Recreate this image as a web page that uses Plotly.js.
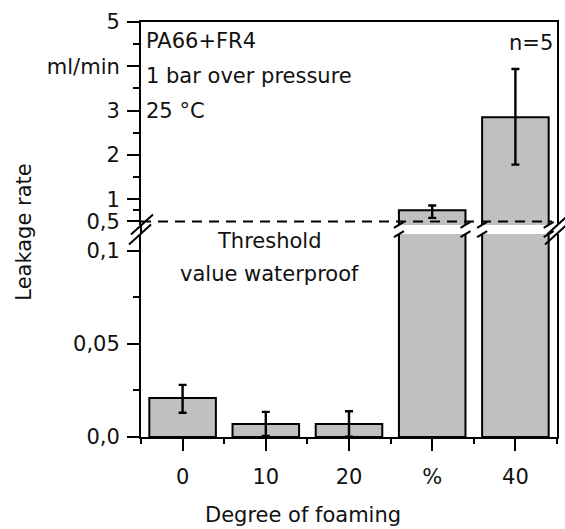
<!DOCTYPE html>
<html><head><meta charset="utf-8">
<script src="https://cdn.plot.ly/plotly-3.0.1.min.js"></script>
<style>html,body{margin:0;padding:0;background:#fff}</style></head>
<body>
<div id="chart" style="width:565px;height:529px"></div>
<script>
// ---- data ----
const categories = ['0', '10', '20', '%', '40'];
const leakage    = [0.021, 0.007, 0.007, 0.75, 2.85];
const errPlus    = [0.007, 0.0065, 0.0068, 0.11, 1.09];
const errMinus   = [0.008, 0.0065, 0.0068, 0.17, 1.07];
const lowerTickVals = [0, 0.05, 0.1];
const lowerTickText = ['0,0', '0,05', '0,1'];
const lowerMinor    = [0.025, 0.075];
const upperTickVals = [0.5, 1, 2, 3, 4, 5];
const upperTickText = ['0,5', '1', '2', '3', 'ml/min', '5'];
const upperMinor    = [0.75, 1.5, 2.5, 3.5, 4.5];
const threshold = 0.5;
const lowerRange = [0, 0.109];
const upperRange = [0.42, 5];

// ---- layout helpers ----
const FONT = {family: 'DejaVu Sans', size: 21, color: '#111'};
const xs = categories.map((c, i) => i);
const barWidth = 0.8;
const lowerDom = [0, 0.489];
const upperDom = [0.511, 1];

const common = {
  type: 'bar', x: xs, y: leakage, width: barWidth,
  marker: {color: '#c0c0c0', line: {color: '#000', width: 2}},
  error_y: {type: 'data', symmetric: false, array: errPlus, arrayminus: errMinus,
            color: '#000', thickness: 2.4, width: 4},
  hoverinfo: 'skip', showlegend: false
};
const traces = [
  Object.assign({}, common, {xaxis: 'x', yaxis: 'y'}),
  Object.assign({}, common, {xaxis: 'x2', yaxis: 'y2'})
];

const shapes = [];
const blk = {color: '#000', width: 2};
// threshold dashed line
shapes.push({type: 'line', xref: 'paper', yref: 'y2', x0: 0, x1: 0.988, y0: threshold, y1: threshold,
             line: {color: '#000', width: 2, dash: '10px,7px'}, layer: 'above'});
// left axis line across the gap
shapes.push({type: 'line', xref: 'paper', yref: 'paper', x0: 0, x1: 0, y0: lowerDom[1], y1: upperDom[0], line: blk});
// axis break marks (left and right)
[0, 1].forEach(px => {
  const ymid = (lowerDom[1] + upperDom[0]) / 2;
  [[1, 5], [-1, -5]].forEach(([dx, dy]) => {
    shapes.push({type: 'line', xref: 'paper', yref: 'paper',
      xsizemode: 'pixel', ysizemode: 'pixel', xanchor: px, yanchor: ymid,
      x0: dx - 11, x1: dx + 11, y0: dy - 10, y1: dy + 10, line: blk, layer: 'above'});
  });
});
// bar break marks for bars that cross the break
leakage.forEach((v, i) => {
  if (v > lowerRange[1]) {
    [i - barWidth / 2, i + barWidth / 2].forEach(ex => {
      [lowerDom[1], upperDom[0]].forEach(ya => {
        shapes.push({type: 'line', xref: 'x', yref: 'paper',
          xsizemode: 'pixel', ysizemode: 'pixel', xanchor: ex, yanchor: ya,
          x0: -5, x1: 5, y0: -3, y1: 3, line: blk, layer: 'above'});
      });
    });
  }
});

const ann = (text, x, y, xanchor, extra) => Object.assign({
  text, x, y, xref: 'paper', yref: 'paper', xanchor, yanchor: 'middle',
  showarrow: false, font: FONT}, extra || {});

const annotations = [
  ann('PA66+FR4', 0.007, 0.955, 'left'),
  ann('1 bar over pressure', 0.007, 0.870, 'left'),
  ann('25 °C', 0.007, 0.7855, 'left'),
  ann('n=5', 0.996, 0.949, 'right'),
  ann('Threshold', 0.31, 0.472, 'center'),
  ann('value waterproof', 0.31, 0.393, 'center'),
  ann('Degree of foaming', 0.389, -0.187, 'center'),
  ann('Leakage rate', -0.282, 0.494, 'center', {textangle: -90})
];

const layout = {
  width: 565, height: 529,
  margin: {l: 141, r: 8, t: 22, b: 92},
  paper_bgcolor: '#fff', plot_bgcolor: 'rgba(0,0,0,0)',
  font: FONT, bargap: 0,
  xaxis: {range: [-0.5, 4.5], anchor: 'y', showgrid: false, zeroline: false,
    showline: true, linecolor: '#000', linewidth: 2,
    tickmode: 'array', tickvals: xs, ticktext: categories,
    ticks: 'outside', ticklen: 12, tickwidth: 2, tickcolor: '#000',
    ticklabelstandoff: 8, tickfont: FONT,
    minor: {tickvals: [-0.5, 0.5, 1.5, 2.5, 3.5, 4.5], ticks: 'outside', ticklen: 5, tickwidth: 2, tickcolor: '#000'}},
  xaxis2: {range: [-0.5, 4.5], anchor: 'y2', side: 'top', showgrid: false, zeroline: false,
    showline: true, linecolor: '#000', linewidth: 2, showticklabels: false, ticks: ''},
  yaxis: {domain: lowerDom, range: lowerRange, anchor: 'x', showgrid: false, zeroline: false,
    showline: true, mirror: true, linecolor: '#000', linewidth: 2,
    tickmode: 'array', tickvals: lowerTickVals, ticktext: lowerTickText,
    ticks: 'outside', ticklen: 12, tickwidth: 2, tickcolor: '#000',
    ticklabelstandoff: 3, tickfont: FONT,
    minor: {tickvals: lowerMinor, ticks: 'outside', ticklen: 6, tickwidth: 2, tickcolor: '#000'}},
  yaxis2: {domain: upperDom, range: upperRange, anchor: 'x2', showgrid: false, zeroline: false,
    showline: true, mirror: true, linecolor: '#000', linewidth: 2,
    tickmode: 'array', tickvals: upperTickVals, ticktext: upperTickText,
    ticks: 'outside', ticklen: 12, tickwidth: 2, tickcolor: '#000',
    ticklabelstandoff: 3, tickfont: FONT,
    minor: {tickvals: upperMinor, ticks: 'outside', ticklen: 6, tickwidth: 2, tickcolor: '#000'}},
  shapes, annotations
};

Plotly.newPlot('chart', traces, layout, {displayModeBar: false, staticPlot: true});
</script>
</body></html>
